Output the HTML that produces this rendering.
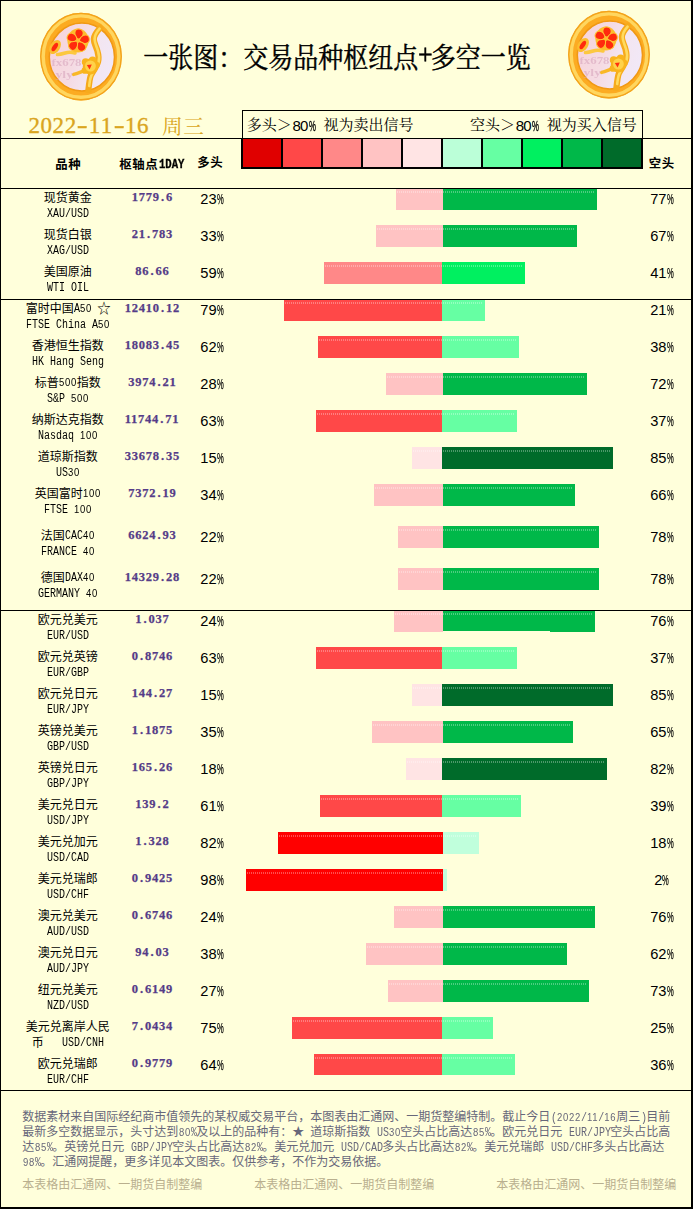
<!DOCTYPE html>
<html lang="zh"><head><meta charset="utf-8"><title>一张图：交易品种枢纽点+多空一览</title>
<style>
html,body{margin:0;padding:0;background:#ffffdb}
#pg{position:relative;width:693px;height:1209px;overflow:hidden;background:#ffffdb;font-family:"Liberation Sans",sans-serif}
#pg svg{position:absolute;left:0;top:0}
#pg span{position:absolute;white-space:pre;line-height:1}
.m{font:12px/12px "Liberation Mono",monospace;transform:scaleX(.8333);transform-origin:0 0;color:#000}
.m u{text-decoration:none;font-family:"Liberation Sans",sans-serif;font-size:11.4px;letter-spacing:.86px;line-height:0}
.hb{font:bold 12px/12px "Liberation Mono",monospace;transform:scaleX(.885);transform-origin:0 0;color:#000;-webkit-text-stroke:.3px #000}
.pv{font:bold 12.5px/12.5px "Liberation Serif",serif;letter-spacing:.75px;color:#553c88;-webkit-text-stroke:.25px #553c88}
.pv b{display:inline-block;width:6.25px;text-align:center}
.pc{font:14.67px/16px "Liberation Sans",sans-serif;color:#000}
.pc i{display:inline-block;font-style:normal;transform:scaleX(.52);transform-origin:0 50%;width:7px;-webkit-text-stroke:.25px #000}
.lg{font:15px/15px "Liberation Sans",sans-serif;color:#000;letter-spacing:-.75px}
.lg i{display:inline-block;font-style:normal;transform:scaleX(.52);transform-origin:0 50%;width:7px;margin-left:.9px;-webkit-text-stroke:.4px #000}
.tp{font:26px/30px "Liberation Serif",serif;text-align:center;color:#000;transform:scaleY(1.1);-webkit-text-stroke:.5px #000}
.dt{font:23px/26px "Liberation Serif",serif;color:#daa520;-webkit-text-stroke:.35px #daa520}
.dt b{display:inline-block;width:12.07px;text-align:center;font-weight:normal}
.dt b.y{transform:scaleX(1.4);position:relative;top:.4px}
</style></head><body>
<div id="pg">
<svg width="693" height="1209" viewBox="0 0 693 1209">
<defs><radialGradient id="gring" cx="45%" cy="40%" r="65%"><stop offset="0" stop-color="#ffc83a"/><stop offset=".75" stop-color="#f8ac14"/><stop offset="1" stop-color="#ef9a0a"/></radialGradient>
<linearGradient id="gin" x1="0" y1=".2" x2="1" y2=".5"><stop offset="0" stop-color="#f7d3da"/><stop offset=".45" stop-color="#f5dbe3"/><stop offset=".7" stop-color="#f3e5f0"/><stop offset="1" stop-color="#f1e8f7"/></linearGradient>
<filter id="soft" x="-5%" y="-5%" width="110%" height="110%"><feGaussianBlur stdDeviation=".45"/></filter>
<pattern id="dots" x="1" width="2" height="2" patternUnits="userSpaceOnUse"><rect width="1" height="2" fill="#fff" fill-opacity=".3"/></pattern>
<g id="logo" filter="url(#soft)">
<ellipse cx="81" cy="56.6" rx="40.8" ry="43.8" fill="#fcab20"/>
<ellipse cx="81" cy="56.6" rx="40.2" ry="43.2" fill="none" stroke="#f2a41e" stroke-width="1.4"/>
<ellipse cx="81" cy="56.6" rx="37.8" ry="40.7" fill="none" stroke="#ffd65e" stroke-width="3.4"/>
<ellipse cx="81.9" cy="56.9" rx="32.6" ry="34" fill="url(#gin)" stroke="#f09812" stroke-width="1.5"/>
<path d="M100 28C96.5 32 93.8 35 93.8 39C93.8 43 96 46 97.4 51C98.6 55 99 58 98 62C96.8 66.5 93 71 91 75C89.6 78 89 84 88.4 90" fill="none" stroke="#f6aa1c" stroke-width="6.2" stroke-linecap="round"/>
<path d="M99.6 28.6C96.6 32 94.6 35 94.6 39C94.6 43 96.6 46 98 51C99.2 55 99.6 58 98.6 62C97.4 66.5 93.6 71 91.6 75C90.2 78 89.6 82 89.2 86" fill="none" stroke="#ffdb5e" stroke-width="2.6" stroke-linecap="round"/>
<path d="M57.5 54.5C62 54.8 66 52 70 52.2C72 52.3 73.5 52.6 75 53" fill="none" stroke="#fcc840" stroke-width="3.6" stroke-linecap="round"/>
<path d="M73.6 74.4C77 73.6 80.5 72 84.5 70.6" fill="none" stroke="#f9b828" stroke-width="3.4" stroke-linecap="round"/>
<g transform="translate(78 40.6)">
<ellipse rx="10.6" ry="12" fill="#fdbd2c"/>
<g fill="#ff2a10" stroke="#ffc233" stroke-width="1"><path d="M.4 -1.4C-4.6 -2.4 -7.2 -10.6 -1.6 -11.4C4.6 -12.2 5.4 -5 .4 -1.4Z" transform="rotate(12)"/><path d="M.4 -1.4C-4.6 -2.4 -7.2 -10.6 -1.6 -11.4C4.6 -12.2 5.4 -5 .4 -1.4Z" transform="rotate(84)"/><path d="M.4 -1.4C-4.6 -2.4 -7.2 -10.6 -1.6 -11.4C4.6 -12.2 5.4 -5 .4 -1.4Z" transform="rotate(156)"/><path d="M.4 -1.4C-4.6 -2.4 -7.2 -10.6 -1.6 -11.4C4.6 -12.2 5.4 -5 .4 -1.4Z" transform="rotate(228)"/><path d="M.4 -1.4C-4.6 -2.4 -7.2 -10.6 -1.6 -11.4C4.6 -12.2 5.4 -5 .4 -1.4Z" transform="rotate(300)"/></g>
<circle r="1.8" fill="#ffbe30"/>
</g>
<ellipse cx="55" cy="47" rx="5" ry="7.8" transform="rotate(33 55 47)" fill="#fcbd2e"/>
<ellipse cx="54.8" cy="47" rx="2.2" ry="4.8" transform="rotate(33 54.8 47)" fill="#ff2a10"/>
<g fill="#f9b41e"><ellipse cx="90.4" cy="66.6" rx="7.6" ry="8"/><circle cx="85.6" cy="62" r="3.8"/><circle cx="92.6" cy="60.2" r="3.8"/><circle cx="85" cy="70.4" r="3.4"/><circle cx="96" cy="65" r="3.6"/></g>
<ellipse cx="90.4" cy="66" rx="5.4" ry="5.6" fill="#ffd24a"/>
<path d="M86.8 65 l5 -.4 l-2.2 5z" fill="#ff3010"/>
<text x="51.5" y="66.2" font-family="Liberation Serif,serif" font-weight="bold" font-size="10.5" fill="#d9a8bf" opacity=".62" textLength="30" lengthAdjust="spacingAndGlyphs">fx678</text>
<text x="55.5" y="77.6" font-family="Liberation Serif,serif" font-weight="bold" font-size="10.5" fill="#d9a8bf" opacity=".62" textLength="17.5" lengthAdjust="spacingAndGlyphs">yly</text>
</g>
</defs>
<rect x="0" y="0" width="693" height="1" fill="#000"/><rect x="0" y="0" width="1" height="1209" fill="#000"/>
<rect x="691" y="0" width="2" height="1209" fill="#000"/><rect x="0" y="1207" width="693" height="2" fill="#000"/>
<rect x="0" y="138" width="693" height="1" fill="#000"/>
<rect x="0" y="188" width="693" height="1" fill="#000"/>
<rect x="0" y="299" width="693" height="1" fill="#000"/>
<rect x="0" y="610" width="693" height="1" fill="#000"/>
<rect x="0" y="1090" width="693" height="1" fill="#000"/>
<rect x="242.5" y="110.5" width="400" height="28" fill="none" stroke="#000" stroke-width="1"/>
<rect x="242" y="139" width="40" height="28" fill="#e00000"/>
<rect x="282" y="139" width="40" height="28" fill="#ff4848"/>
<rect x="322" y="139" width="40" height="28" fill="#ff8888"/>
<rect x="362" y="139" width="40" height="28" fill="#ffc3c3"/>
<rect x="402" y="139" width="40" height="28" fill="#ffe4e4"/>
<rect x="442" y="139" width="40" height="28" fill="#bbffd8"/>
<rect x="482" y="139" width="40" height="28" fill="#66ffa3"/>
<rect x="522" y="139" width="40" height="28" fill="#00f060"/>
<rect x="562" y="139" width="40" height="28" fill="#00b849"/>
<rect x="602" y="139" width="40" height="28" fill="#006b2a"/>
<rect x="241" y="139" width="2" height="30" fill="#000"/>
<rect x="281" y="139" width="2" height="30" fill="#000"/>
<rect x="321" y="139" width="2" height="30" fill="#000"/>
<rect x="361" y="139" width="2" height="30" fill="#000"/>
<rect x="401" y="139" width="2" height="30" fill="#000"/>
<rect x="441" y="139" width="2" height="30" fill="#000"/>
<rect x="481" y="139" width="2" height="30" fill="#000"/>
<rect x="521" y="139" width="2" height="30" fill="#000"/>
<rect x="561" y="139" width="2" height="30" fill="#000"/>
<rect x="601" y="139" width="2" height="30" fill="#000"/>
<rect x="641" y="139" width="2" height="30" fill="#000"/>
<rect x="241" y="167" width="402" height="2" fill="#000"/>
<rect x="396" y="189" width="47" height="21" fill="#ffc3c3"/>
<rect x="443" y="189" width="154" height="21" fill="#00b849"/>
<rect x="397" y="191" width="198" height="2" fill="url(#dots)"/>
<rect x="376" y="225" width="67" height="22" fill="#ffc3c3"/>
<rect x="443" y="225" width="134" height="22" fill="#00b849"/>
<rect x="377" y="228" width="198" height="2" fill="url(#dots)"/>
<rect x="324" y="262" width="118" height="22" fill="#ff8888"/>
<rect x="442" y="262" width="83" height="22" fill="#00f060"/>
<rect x="325" y="265" width="198" height="2" fill="url(#dots)"/>
<rect x="284" y="300" width="158" height="21" fill="#ff4848"/>
<rect x="442" y="300" width="43" height="21" fill="#66ffa3"/>
<rect x="285" y="302" width="198" height="2" fill="url(#dots)"/>
<rect x="318" y="336" width="124" height="22" fill="#ff4848"/>
<rect x="442" y="336" width="77" height="22" fill="#66ffa3"/>
<rect x="319" y="339" width="198" height="2" fill="url(#dots)"/>
<rect x="386" y="373" width="57" height="22" fill="#ffc3c3"/>
<rect x="443" y="373" width="144" height="22" fill="#00b849"/>
<rect x="387" y="376" width="198" height="2" fill="url(#dots)"/>
<rect x="316" y="410" width="126" height="22" fill="#ff4848"/>
<rect x="442" y="410" width="75" height="22" fill="#66ffa3"/>
<rect x="317" y="413" width="198" height="2" fill="url(#dots)"/>
<rect x="412" y="447" width="30" height="22" fill="#ffe4e4"/>
<rect x="442" y="447" width="171" height="22" fill="#006b2a"/>
<rect x="413" y="450" width="198" height="2" fill="url(#dots)"/>
<rect x="374" y="484" width="69" height="22" fill="#ffc3c3"/>
<rect x="443" y="484" width="132" height="22" fill="#00b849"/>
<rect x="375" y="487" width="198" height="2" fill="url(#dots)"/>
<rect x="398" y="526" width="45" height="22" fill="#ffc3c3"/>
<rect x="443" y="526" width="156" height="22" fill="#00b849"/>
<rect x="399" y="529" width="198" height="2" fill="url(#dots)"/>
<rect x="398" y="568" width="45" height="22" fill="#ffc3c3"/>
<rect x="443" y="568" width="156" height="22" fill="#00b849"/>
<rect x="399" y="571" width="198" height="2" fill="url(#dots)"/>
<rect x="394" y="611" width="49" height="21" fill="#ffc3c3"/>
<rect x="443" y="611" width="152" height="21" fill="#00b849"/>
<rect x="395" y="613" width="198" height="2" fill="url(#dots)"/>
<rect x="316" y="647" width="126" height="22" fill="#ff4848"/>
<rect x="442" y="647" width="75" height="22" fill="#66ffa3"/>
<rect x="317" y="650" width="198" height="2" fill="url(#dots)"/>
<rect x="412" y="684" width="30" height="22" fill="#ffe4e4"/>
<rect x="442" y="684" width="171" height="22" fill="#006b2a"/>
<rect x="413" y="687" width="198" height="2" fill="url(#dots)"/>
<rect x="372" y="721" width="71" height="22" fill="#ffc3c3"/>
<rect x="443" y="721" width="130" height="22" fill="#00b849"/>
<rect x="373" y="724" width="198" height="2" fill="url(#dots)"/>
<rect x="406" y="758" width="36" height="22" fill="#ffe4e4"/>
<rect x="442" y="758" width="165" height="22" fill="#006b2a"/>
<rect x="407" y="761" width="198" height="2" fill="url(#dots)"/>
<rect x="320" y="795" width="122" height="22" fill="#ff4848"/>
<rect x="442" y="795" width="79" height="22" fill="#66ffa3"/>
<rect x="321" y="798" width="198" height="2" fill="url(#dots)"/>
<rect x="278" y="832" width="165" height="22" fill="#ff0000"/>
<rect x="443" y="832" width="36" height="22" fill="#c0ffdc"/>
<rect x="279" y="835" width="198" height="2" fill="url(#dots)"/>
<rect x="246" y="869" width="197" height="22" fill="#ff0000"/>
<rect x="443" y="869" width="4" height="22" fill="#c0ffdc"/>
<rect x="247" y="872" width="198" height="2" fill="url(#dots)"/>
<rect x="394" y="906" width="49" height="22" fill="#ffc3c3"/>
<rect x="443" y="906" width="152" height="22" fill="#00b849"/>
<rect x="395" y="909" width="198" height="2" fill="url(#dots)"/>
<rect x="366" y="943" width="77" height="22" fill="#ffc3c3"/>
<rect x="443" y="943" width="124" height="22" fill="#00b849"/>
<rect x="367" y="946" width="198" height="2" fill="url(#dots)"/>
<rect x="388" y="980" width="55" height="22" fill="#ffc3c3"/>
<rect x="443" y="980" width="146" height="22" fill="#00b849"/>
<rect x="389" y="983" width="198" height="2" fill="url(#dots)"/>
<rect x="292" y="1017" width="150" height="22" fill="#ff4848"/>
<rect x="442" y="1017" width="51" height="22" fill="#66ffa3"/>
<rect x="293" y="1020" width="198" height="2" fill="url(#dots)"/>
<rect x="314" y="1054" width="128" height="21" fill="#ff4848"/>
<rect x="442" y="1054" width="73" height="21" fill="#66ffa3"/>
<rect x="315" y="1057" width="198" height="2" fill="url(#dots)"/>
<rect x="443" y="631" width="107" height="1" fill="#ffffdb"/>
<g font-family="'Liberation Serif','Noto Serif CJK SC',serif" font-size="25" fill="#000" stroke="#000" stroke-width=".4">
<text transform="translate(143.3 67.8) scale(1 1.12)">一张图：交易品种枢纽点</text>
<text transform="translate(430.8 67.8) scale(1 1.12)">多空一览</text>
</g>
<text x="161.97" y="134.1" font-family="'Liberation Serif','Noto Serif CJK SC',serif" font-size="20.6" letter-spacing=".7" fill="#daa520">周三</text>
<g font-family="'Liberation Serif','Noto Serif CJK SC',serif" font-size="15" fill="#000">
<text x="246.75" y="130">多头＞</text>
<text x="323.45" y="130">视为卖出信号</text>
<text x="469.95" y="130">空头＞</text>
<text x="546.65" y="130">视为买入信号</text>
</g>
<g font-family="'Liberation Sans','Noto Sans CJK SC',sans-serif" font-size="12.4" font-weight="bold" letter-spacing=".6" fill="#000">
<text x="55.3" y="169.2">品种</text>
<text x="119.3" y="169.2">枢轴点</text>
<text x="197.3" y="167.2">多头</text>
<text x="648.8" y="168.2">空头</text>
</g>
<g font-family="'Liberation Sans','Noto Sans CJK SC',sans-serif" font-size="12" fill="#000">
<text x="43.83" y="201.6">现货黄金</text>
<text x="43.83" y="238.6">现货白银</text>
<text x="43.83" y="275.6">美国原油</text>
<text x="25.82" y="312.6">富时中国</text>
<text x="97.2" y="313" font-size="13.4">☆</text>
<text x="31.82" y="349.6">香港恒生指数</text>
<text x="34.83" y="386.6">标普</text>
<text x="76.83" y="386.6">指数</text>
<text x="31.82" y="423.6">纳斯达克指数</text>
<text x="37.83" y="460.6">道琼斯指数</text>
<text x="34.83" y="497.6">英国富时</text>
<text x="40.83" y="539.6">法国</text>
<text x="40.83" y="581.6">德国</text>
<text x="37.83" y="623.6">欧元兑美元</text>
<text x="37.83" y="660.6">欧元兑英镑</text>
<text x="37.83" y="697.6">欧元兑日元</text>
<text x="37.83" y="734.6">英镑兑美元</text>
<text x="37.83" y="771.6">英镑兑日元</text>
<text x="37.83" y="808.6">美元兑日元</text>
<text x="37.83" y="845.6">美元兑加元</text>
<text x="37.83" y="882.6">美元兑瑞郎</text>
<text x="37.83" y="919.6">澳元兑美元</text>
<text x="37.83" y="956.6">澳元兑日元</text>
<text x="37.83" y="993.6">纽元兑美元</text>
<text x="25.82" y="1030.6">美元兑离岸人民</text>
<text x="31.82" y="1047">币</text>
<text x="37.83" y="1067.6">欧元兑瑞郎</text>
</g>
<g font-family="'Liberation Sans','Noto Sans CJK SC',sans-serif" font-size="12" fill="#67677a">
<text x="22.32" y="1121.2">数据素材来自国际经纪商市值领先的某权威交易平台，本图表由汇通网、一期货整编特制。截止今日</text>
<text x="616.33" y="1121.2">周三</text>
<text x="646.33" y="1121.2">目前</text>
<text x="22.32" y="1136.2">最新多空数据显示，头寸达到</text>
<text x="196.32" y="1136.2">及以上的品种有：★</text>
<text x="310.32" y="1136.2">道琼斯指数</text>
<text x="400.32" y="1136.2">空头占比高达</text>
<text x="490.32" y="1136.2">。欧元兑日元</text>
<text x="610.33" y="1136.2">空头占比高</text>
<text x="22.32" y="1151.2">达</text>
<text x="52.33" y="1151.2">。英镑兑日元</text>
<text x="172.32" y="1151.2">空头占比高达</text>
<text x="262.32" y="1151.2">。美元兑加元</text>
<text x="382.32" y="1151.2">多头占比高达</text>
<text x="472.32" y="1151.2">。美元兑瑞郎</text>
<text x="592.33" y="1151.2">多头占比高达</text>
<text x="40.33" y="1166.2">。汇通网提醒，更多详见本文图表。仅供参考，不作为交易依据。</text>
</g>
<g font-family="'Liberation Sans','Noto Sans CJK SC',sans-serif" font-size="12" fill="#b9af8e">
<text x="22.32" y="1189.4">本表格由汇通网、一期货自制整编</text>
<text x="254.32" y="1189.4">本表格由汇通网、一期货自制整编</text>
<text x="496.32" y="1189.4">本表格由汇通网、一期货自制整编</text>
</g>
<use href="#logo"/>
<use href="#logo" x="528" y="-2"/>
</svg>
<span class="tp" style="left:418.0px;top:41.7px;width:12.5px">+</span>
<span class="dt" style="left:28.2px;top:113.9px"><b>2</b><b>0</b><b>2</b><b>2</b><b class="y">-</b><b>1</b><b>1</b><b class="y">-</b><b>1</b><b>6</b></span>
<span class="lg" style="left:292.5px;top:118.4px">80<i>%</i></span>
<span class="lg" style="left:515.7px;top:118.4px">80<i>%</i></span>
<span class="hb" style="left:159.00px;top:159.40px;">1DAY</span>
<span class="m" style="left:47.00px;top:207.80px;">XAU/USD</span>
<span class="pv" style="left:131.80px;top:190.62px">1779<b>.</b>6</span>
<span class="pc" style="left:200.3px;top:191.5px">23<i>%</i></span>
<span class="pc" style="left:650.2px;top:191.5px">77<i>%</i></span>
<span class="m" style="left:47.00px;top:244.80px;">XAG/USD</span>
<span class="pv" style="left:131.80px;top:227.62px">21<b>.</b>783</span>
<span class="pc" style="left:200.3px;top:228.5px">33<i>%</i></span>
<span class="pc" style="left:650.2px;top:228.5px">67<i>%</i></span>
<span class="m" style="left:47.00px;top:281.80px;">WTI OIL</span>
<span class="pv" style="left:135.30px;top:264.62px">86<b>.</b>66</span>
<span class="pc" style="left:200.3px;top:265.5px">59<i>%</i></span>
<span class="pc" style="left:650.2px;top:265.5px">41<i>%</i></span>
<span class="m" style="left:74.00px;top:303.40px;">A<u>50</u> </span>
<span class="m" style="left:26.00px;top:318.80px;">FTSE China A<u>50</u></span>
<span class="pv" style="left:124.80px;top:301.62px">12410<b>.</b>12</span>
<span class="pc" style="left:200.3px;top:302.5px">79<i>%</i></span>
<span class="pc" style="left:650.2px;top:302.5px">21<i>%</i></span>
<span class="m" style="left:32.00px;top:355.80px;">HK Hang Seng</span>
<span class="pv" style="left:124.80px;top:338.62px">18083<b>.</b>45</span>
<span class="pc" style="left:200.3px;top:339.5px">62<i>%</i></span>
<span class="pc" style="left:650.2px;top:339.5px">38<i>%</i></span>
<span class="m" style="left:59.00px;top:377.40px;"><u>500</u></span>
<span class="m" style="left:47.00px;top:392.80px;">S&amp;P <u>500</u></span>
<span class="pv" style="left:128.30px;top:375.62px">3974<b>.</b>21</span>
<span class="pc" style="left:200.3px;top:376.5px">28<i>%</i></span>
<span class="pc" style="left:650.2px;top:376.5px">72<i>%</i></span>
<span class="m" style="left:38.00px;top:429.80px;">Nasdaq <u>100</u></span>
<span class="pv" style="left:124.80px;top:412.62px">11744<b>.</b>71</span>
<span class="pc" style="left:200.3px;top:413.5px">63<i>%</i></span>
<span class="pc" style="left:650.2px;top:413.5px">37<i>%</i></span>
<span class="m" style="left:56.00px;top:466.80px;">US<u>30</u></span>
<span class="pv" style="left:124.80px;top:449.62px">33678<b>.</b>35</span>
<span class="pc" style="left:200.3px;top:450.5px">15<i>%</i></span>
<span class="pc" style="left:650.2px;top:450.5px">85<i>%</i></span>
<span class="m" style="left:83.00px;top:488.40px;"><u>100</u></span>
<span class="m" style="left:44.00px;top:503.80px;">FTSE <u>100</u></span>
<span class="pv" style="left:128.30px;top:486.62px">7372<b>.</b>19</span>
<span class="pc" style="left:200.3px;top:487.5px">34<i>%</i></span>
<span class="pc" style="left:650.2px;top:487.5px">66<i>%</i></span>
<span class="m" style="left:65.00px;top:530.40px;">CAC<u>40</u></span>
<span class="m" style="left:41.00px;top:545.80px;">FRANCE <u>40</u></span>
<span class="pv" style="left:128.30px;top:528.62px">6624<b>.</b>93</span>
<span class="pc" style="left:200.3px;top:529.5px">22<i>%</i></span>
<span class="pc" style="left:650.2px;top:529.5px">78<i>%</i></span>
<span class="m" style="left:65.00px;top:572.40px;">DAX<u>40</u></span>
<span class="m" style="left:38.00px;top:587.80px;">GERMANY <u>40</u></span>
<span class="pv" style="left:124.80px;top:570.62px">14329<b>.</b>28</span>
<span class="pc" style="left:200.3px;top:571.5px">22<i>%</i></span>
<span class="pc" style="left:650.2px;top:571.5px">78<i>%</i></span>
<span class="m" style="left:47.00px;top:629.80px;">EUR/USD</span>
<span class="pv" style="left:135.30px;top:612.62px">1<b>.</b>037</span>
<span class="pc" style="left:200.3px;top:613.5px">24<i>%</i></span>
<span class="pc" style="left:650.2px;top:613.5px">76<i>%</i></span>
<span class="m" style="left:47.00px;top:666.80px;">EUR/GBP</span>
<span class="pv" style="left:131.80px;top:649.62px">0<b>.</b>8746</span>
<span class="pc" style="left:200.3px;top:650.5px">63<i>%</i></span>
<span class="pc" style="left:650.2px;top:650.5px">37<i>%</i></span>
<span class="m" style="left:47.00px;top:703.80px;">EUR/JPY</span>
<span class="pv" style="left:131.80px;top:686.62px">144<b>.</b>27</span>
<span class="pc" style="left:200.3px;top:687.5px">15<i>%</i></span>
<span class="pc" style="left:650.2px;top:687.5px">85<i>%</i></span>
<span class="m" style="left:47.00px;top:740.80px;">GBP/USD</span>
<span class="pv" style="left:131.80px;top:723.62px">1<b>.</b>1875</span>
<span class="pc" style="left:200.3px;top:724.5px">35<i>%</i></span>
<span class="pc" style="left:650.2px;top:724.5px">65<i>%</i></span>
<span class="m" style="left:47.00px;top:777.80px;">GBP/JPY</span>
<span class="pv" style="left:131.80px;top:760.62px">165<b>.</b>26</span>
<span class="pc" style="left:200.3px;top:761.5px">18<i>%</i></span>
<span class="pc" style="left:650.2px;top:761.5px">82<i>%</i></span>
<span class="m" style="left:47.00px;top:814.80px;">USD/JPY</span>
<span class="pv" style="left:135.30px;top:797.62px">139<b>.</b>2</span>
<span class="pc" style="left:200.3px;top:798.5px">61<i>%</i></span>
<span class="pc" style="left:650.2px;top:798.5px">39<i>%</i></span>
<span class="m" style="left:47.00px;top:851.80px;">USD/CAD</span>
<span class="pv" style="left:135.30px;top:834.62px">1<b>.</b>328</span>
<span class="pc" style="left:200.3px;top:835.5px">82<i>%</i></span>
<span class="pc" style="left:650.2px;top:835.5px">18<i>%</i></span>
<span class="m" style="left:47.00px;top:888.80px;">USD/CHF</span>
<span class="pv" style="left:131.80px;top:871.62px">0<b>.</b>9425</span>
<span class="pc" style="left:200.3px;top:872.5px">98<i>%</i></span>
<span class="pc" style="left:654.3px;top:872.5px">2<i>%</i></span>
<span class="m" style="left:47.00px;top:925.80px;">AUD/USD</span>
<span class="pv" style="left:131.80px;top:908.62px">0<b>.</b>6746</span>
<span class="pc" style="left:200.3px;top:909.5px">24<i>%</i></span>
<span class="pc" style="left:650.2px;top:909.5px">76<i>%</i></span>
<span class="m" style="left:47.00px;top:962.80px;">AUD/JPY</span>
<span class="pv" style="left:135.30px;top:945.62px">94<b>.</b>03</span>
<span class="pc" style="left:200.3px;top:946.5px">38<i>%</i></span>
<span class="pc" style="left:650.2px;top:946.5px">62<i>%</i></span>
<span class="m" style="left:47.00px;top:999.80px;">NZD/USD</span>
<span class="pv" style="left:131.80px;top:982.62px">0<b>.</b>6149</span>
<span class="pc" style="left:200.3px;top:983.5px">27<i>%</i></span>
<span class="pc" style="left:650.2px;top:983.5px">73<i>%</i></span>
<span class="m" style="left:62.00px;top:1036.80px;">USD/CNH</span>
<span class="pv" style="left:131.80px;top:1019.62px">7<b>.</b>0434</span>
<span class="pc" style="left:200.3px;top:1020.5px">75<i>%</i></span>
<span class="pc" style="left:650.2px;top:1020.5px">25<i>%</i></span>
<span class="m" style="left:47.00px;top:1073.80px;">EUR/CHF</span>
<span class="pv" style="left:131.80px;top:1056.62px">0<b>.</b>9779</span>
<span class="pc" style="left:200.3px;top:1057.5px">64<i>%</i></span>
<span class="pc" style="left:650.2px;top:1057.5px">36<i>%</i></span>
<span class="m" style="left:550.50px;top:1112.00px;color:#67677a">(<u>2022</u>/<u>11</u>/<u>16</u></span>
<span class="m" style="left:640.50px;top:1112.00px;color:#67677a">)</span>
<span class="m" style="left:178.50px;top:1127.00px;color:#67677a"><u>80</u>%</span>
<span class="m" style="left:376.50px;top:1127.00px;color:#67677a">US<u>30</u></span>
<span class="m" style="left:472.50px;top:1127.00px;color:#67677a"><u>85</u>%</span>
<span class="m" style="left:568.50px;top:1127.00px;color:#67677a">EUR/JPY</span>
<span class="m" style="left:34.50px;top:1142.00px;color:#67677a"><u>85</u>%</span>
<span class="m" style="left:130.50px;top:1142.00px;color:#67677a">GBP/JPY</span>
<span class="m" style="left:244.50px;top:1142.00px;color:#67677a"><u>82</u>%</span>
<span class="m" style="left:340.50px;top:1142.00px;color:#67677a">USD/CAD</span>
<span class="m" style="left:454.50px;top:1142.00px;color:#67677a"><u>82</u>%</span>
<span class="m" style="left:550.50px;top:1142.00px;color:#67677a">USD/CHF</span>
<span class="m" style="left:22.50px;top:1157.00px;color:#67677a"><u>98</u>%</span>
</div>
</body></html>
